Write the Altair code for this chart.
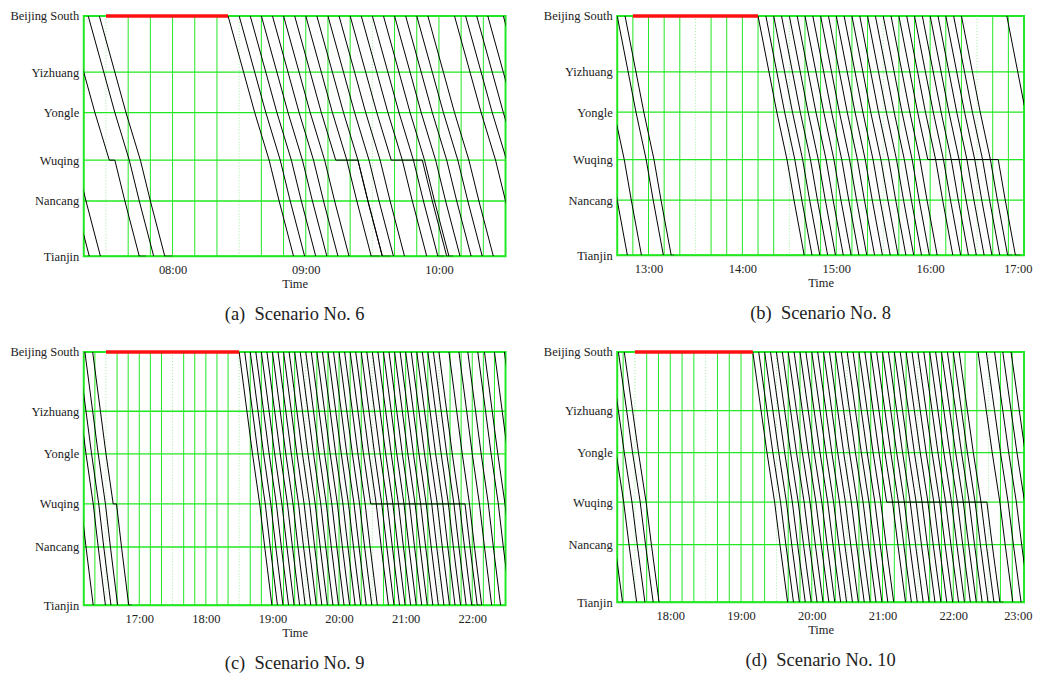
import math
import altair as alt
import pandas as pd

# ---------------- data ----------------
STATIONS = ["Beijing South", "Yizhuang", "Yongle", "Wuqing", "Nancang", "Tianjin"]
STATION_POS = [0, 23.4, 40.2, 60.0, 77.0, 100.0]
RUN_MIN = [0, 7, 12, 18.5, 23, 29.5]          # running time from Beijing South (min)

# (a) Scenario No. 6
A_TITLE = "(a)\u00a0\u00a0Scenario No. 6"
A_RANGE = ["07:20", "10:30"]
A_TICKS = ["08:00", "09:00", "10:00"]
A_BLOCK = ["07:30", "08:25"]
A_DEP = ["06:53", "06:58", "07:13", "07:22", "07:27",
         "08:25", "08:30", "08:35", "08:40", "08:45", "08:50", "08:55", "09:00",
         "09:05", "09:10", "09:15", "09:20", "09:25", "09:30", "09:35", "09:40",
         "09:45", "09:50", "09:55", "10:07", "10:12", "10:17", "10:22", "10:29"]
A_WQ_TRAINS = ["07:13", "08:55", "09:00", "09:20", "09:25", "09:30"]
A_WQ_DWELL = [2.5, 5, 5, 5, 5, 4]
A_TJ_TRAINS = ["07:13", "07:27", "08:55", "09:00", "09:25", "09:30"]
A_TJ_DWELL = [3, 3.5, 4, 4, 3, 3]

# (b) Scenario No. 8
B_TITLE = "(b)\u00a0\u00a0Scenario No. 8"
B_RANGE = ["12:40", "17:00"]
B_TICKS = ["13:00", "14:00", "15:00", "16:00", "17:00"]
B_BLOCK = ["12:50", "14:10"]
B_DEP = ["12:17", "12:26", "12:40", "12:45",
         "14:10", "14:15", "14:20", "14:25", "14:30", "14:35", "14:40", "14:45",
         "14:50", "14:55", "15:00", "15:05", "15:10", "15:15", "15:20", "15:25",
         "15:30", "15:35", "15:40", "15:45", "15:50", "15:55", "16:00", "16:05",
         "16:10", "16:15", "16:20", "16:49"]
B_WQ_TRAINS = ["15:40", "15:45", "15:50", "15:55", "16:00", "16:05", "16:10", "16:15", "16:20"]
B_WQ_DWELL = [5, 5, 5, 5, 5, 5, 5, 5, 5]
B_TJ_TRAINS = ["12:45", "16:15", "16:20"]
B_TJ_DWELL = [2, 3, 3]

# (c) Scenario No. 9
C_TITLE = "(c)\u00a0\u00a0Scenario No. 9"
C_RANGE = ["16:10", "22:30"]
C_TICKS = ["17:00", "18:00", "19:00", "20:00", "21:00", "22:00"]
C_BLOCK = ["16:30", "18:30"]
C_DEP = ["15:49", "16:00", "16:05", "16:11", "16:18",
         "18:30", "18:35", "18:40", "18:45", "18:50", "18:55", "19:00", "19:05",
         "19:10", "19:15", "19:20", "19:25", "19:30", "19:35", "19:40", "19:45",
         "19:50", "19:55", "20:00", "20:05", "20:10", "20:15", "20:20", "20:25",
         "20:30", "20:35", "20:40", "20:45", "20:50", "20:55", "21:00", "21:05",
         "21:10", "21:15", "21:20", "21:25", "21:30",
         "21:39", "21:48", "21:56", "22:05", "22:11", "22:20", "22:29"]
C_WQ_TRAINS = ["16:18", "20:10", "20:15", "20:20", "20:25", "20:30", "20:35", "20:40",
               "20:45", "20:50", "20:55", "21:00", "21:05", "21:10", "21:15", "21:20",
               "21:25", "21:30"]
C_WQ_DWELL = [3, 5, 5, 5, 5, 5, 5, 5, 5, 5, 5, 5, 5, 5, 5, 5, 5, 5]
C_TJ_TRAINS = ["16:18", "21:25", "21:30"]
C_TJ_DWELL = [3, 3, 3]

# (d) Scenario No. 10
D_TITLE = "(d)\u00a0\u00a0Scenario No. 10"
D_RANGE = ["17:15", "23:00"]
D_TICKS = ["18:00", "19:00", "20:00", "21:00", "22:00", "23:00"]
D_BLOCK = ["17:30", "19:10"]
D_DEP = ["16:50", "17:02", "17:09", "17:16", "17:21",
         "19:10", "19:15", "19:20", "19:25", "19:30", "19:35", "19:40", "19:45",
         "19:50", "19:55", "20:00", "20:05", "20:10", "20:15", "20:20", "20:25",
         "20:30", "20:35", "20:40", "20:45", "20:50", "20:55", "21:00", "21:05",
         "21:10", "21:15", "21:20", "21:25", "21:30", "21:35", "21:40", "21:45",
         "21:50", "21:55", "22:00", "22:05",
         "22:21", "22:28", "22:35", "22:42", "22:49"]
D_WQ_TRAINS = ["20:45", "20:50", "20:55", "21:00", "21:05", "21:10", "21:15", "21:20",
               "21:25", "21:30", "21:35", "21:40", "21:45", "21:50", "21:55", "22:00", "22:05"]
D_WQ_DWELL = [5, 5, 5, 5, 5, 5, 5, 5, 5, 5, 5, 5, 5, 5, 5, 5, 5]
D_TJ_TRAINS = ["21:55", "22:00", "22:05"]
D_TJ_DWELL = [3, 3, 3]

# ---------------- styling ----------------
FONT = "Liberation Serif"
GREEN = "#22e822"
LIGHT_GREEN = "#9aee9a"
RED = "#ff1010"
TEXT = "#222222"


def hm(s):
    h, m = s.split(":")
    return int(h) * 60 + float(m)


def train_frame(deps, wq_trains, wq_dwell, tj_trains, tj_dwell):
    wq = dict(zip(wq_trains, wq_dwell))
    tj = dict(zip(tj_trains, tj_dwell))
    rows = []
    for i, d in enumerate(deps):
        t0 = hm(d)
        w = wq.get(d, 0)
        z = tj.get(d, 0)
        pts = []
        for k, (r, p) in enumerate(zip(RUN_MIN, STATION_POS)):
            extra = w if k > 3 else 0
            pts.append((t0 + r + extra, p))
            if k == 3 and w:
                pts.append((t0 + r + w, p))
        if z:
            pts.append((t0 + RUN_MIN[-1] + w + z, STATION_POS[-1]))
        for s, (t, p) in enumerate(pts):
            rows.append({"train": i, "seq": s, "t": t, "pos": p})
    return pd.DataFrame(rows)


y_label_expr = " : ".join(
    f"datum.value == {p} ? '{n}'" for p, n in zip(STATION_POS, STATIONS)
) + " : ''"
x_label_expr = "(datum.value < 600 ? '0' : '') + floor(datum.value / 60) + ':00'"


def panel(title, rng, ticks, block, deps, wqt, wqd, tjt, tjd, width, height):
    t_start, t_end = hm(rng[0]), hm(rng[1])
    xscale = alt.Scale(domain=[t_start, t_end], nice=False, zero=False)
    yscale = alt.Scale(domain=[100, 0], nice=False, zero=False)
    xaxis = alt.Axis(values=[hm(t) for t in ticks], labelExpr=x_label_expr,
                     title="Time", grid=False, ticks=False, domain=False,
                     labelPadding=7, titlePadding=2, labelFlush=True,
                     labelFlushOffset=8)
    yaxis = alt.Axis(values=STATION_POS, labelExpr=y_label_expr, title=None,
                     grid=False, ticks=False, domain=False, labelPadding=5,
                     minExtent=74, labelFlush=False)
    X = lambda f="t": alt.X(f"{f}:Q", scale=xscale, axis=xaxis)
    Y = alt.Y("pos:Q", scale=yscale, axis=yaxis)

    g0 = int(math.ceil((t_start + 0.01) / 10.0) * 10)
    grid_t = [t for t in range(g0, int(t_end), 10)]
    solid = pd.DataFrame({"t": [t for t in grid_t if t % 60 != 30]})
    dotted = pd.DataFrame({"t": [t for t in grid_t if t % 60 == 30]})

    l_solid = alt.Chart(solid).mark_rule(color=GREEN, strokeWidth=1).encode(x=X())
    l_dot = alt.Chart(dotted).mark_rule(color=LIGHT_GREEN, strokeWidth=1,
                                        strokeDash=[1, 2]).encode(x=X())
    l_st = alt.Chart(pd.DataFrame({"pos": STATION_POS})).mark_rule(
        color=GREEN, strokeWidth=1.3).encode(y=Y)
    l_tr = alt.Chart(train_frame(deps, wqt, wqd, tjt, tjd)).mark_line(
        color="black", strokeWidth=1, clip=True).encode(
        x=X(), y=Y, detail="train:N", order="seq:Q")
    l_red = alt.Chart(pd.DataFrame({"t": [hm(block[0])], "t2": [hm(block[1])]})).mark_rule(
        color=RED, strokeWidth=3.5).encode(x=X(), x2="t2:Q", y=alt.value(0))

    return alt.layer(l_solid, l_dot, l_st, l_tr, l_red).properties(
        width=width, height=height,
        title=alt.TitleParams(text=title, orient="bottom", offset=15, anchor="middle"),
    )


pa = panel(A_TITLE, A_RANGE, A_TICKS, A_BLOCK, A_DEP, A_WQ_TRAINS, A_WQ_DWELL,
           A_TJ_TRAINS, A_TJ_DWELL, 423, 241)
pb = panel(B_TITLE, B_RANGE, B_TICKS, B_BLOCK, B_DEP, B_WQ_TRAINS, B_WQ_DWELL,
           B_TJ_TRAINS, B_TJ_DWELL, 408, 240)
pc = panel(C_TITLE, C_RANGE, C_TICKS, C_BLOCK, C_DEP, C_WQ_TRAINS, C_WQ_DWELL,
           C_TJ_TRAINS, C_TJ_DWELL, 423, 254)
pd_ = panel(D_TITLE, D_RANGE, D_TICKS, D_BLOCK, D_DEP, D_WQ_TRAINS, D_WQ_DWELL,
            D_TJ_TRAINS, D_TJ_DWELL, 408, 251)

chart = alt.concat(pa, pb, pc, pd_, columns=2, spacing={"row": 96, "column": 112},
                   bounds="flush").properties(
    padding={"left": 0, "top": 0, "right": 0, "bottom": 0}
).configure_view(
    stroke=GREEN, strokeWidth=2
).configure_axis(
    labelFont=FONT, titleFont=FONT, labelFontSize=12.5, titleFontSize=12.5,
    labelColor=TEXT, titleColor=TEXT, titleFontWeight="normal"
).configure_title(
    font=FONT, fontSize=18.5, fontWeight="normal", color=TEXT
)

chart.save("out.html", embed_options={"renderer": "svg", "actions": False})
